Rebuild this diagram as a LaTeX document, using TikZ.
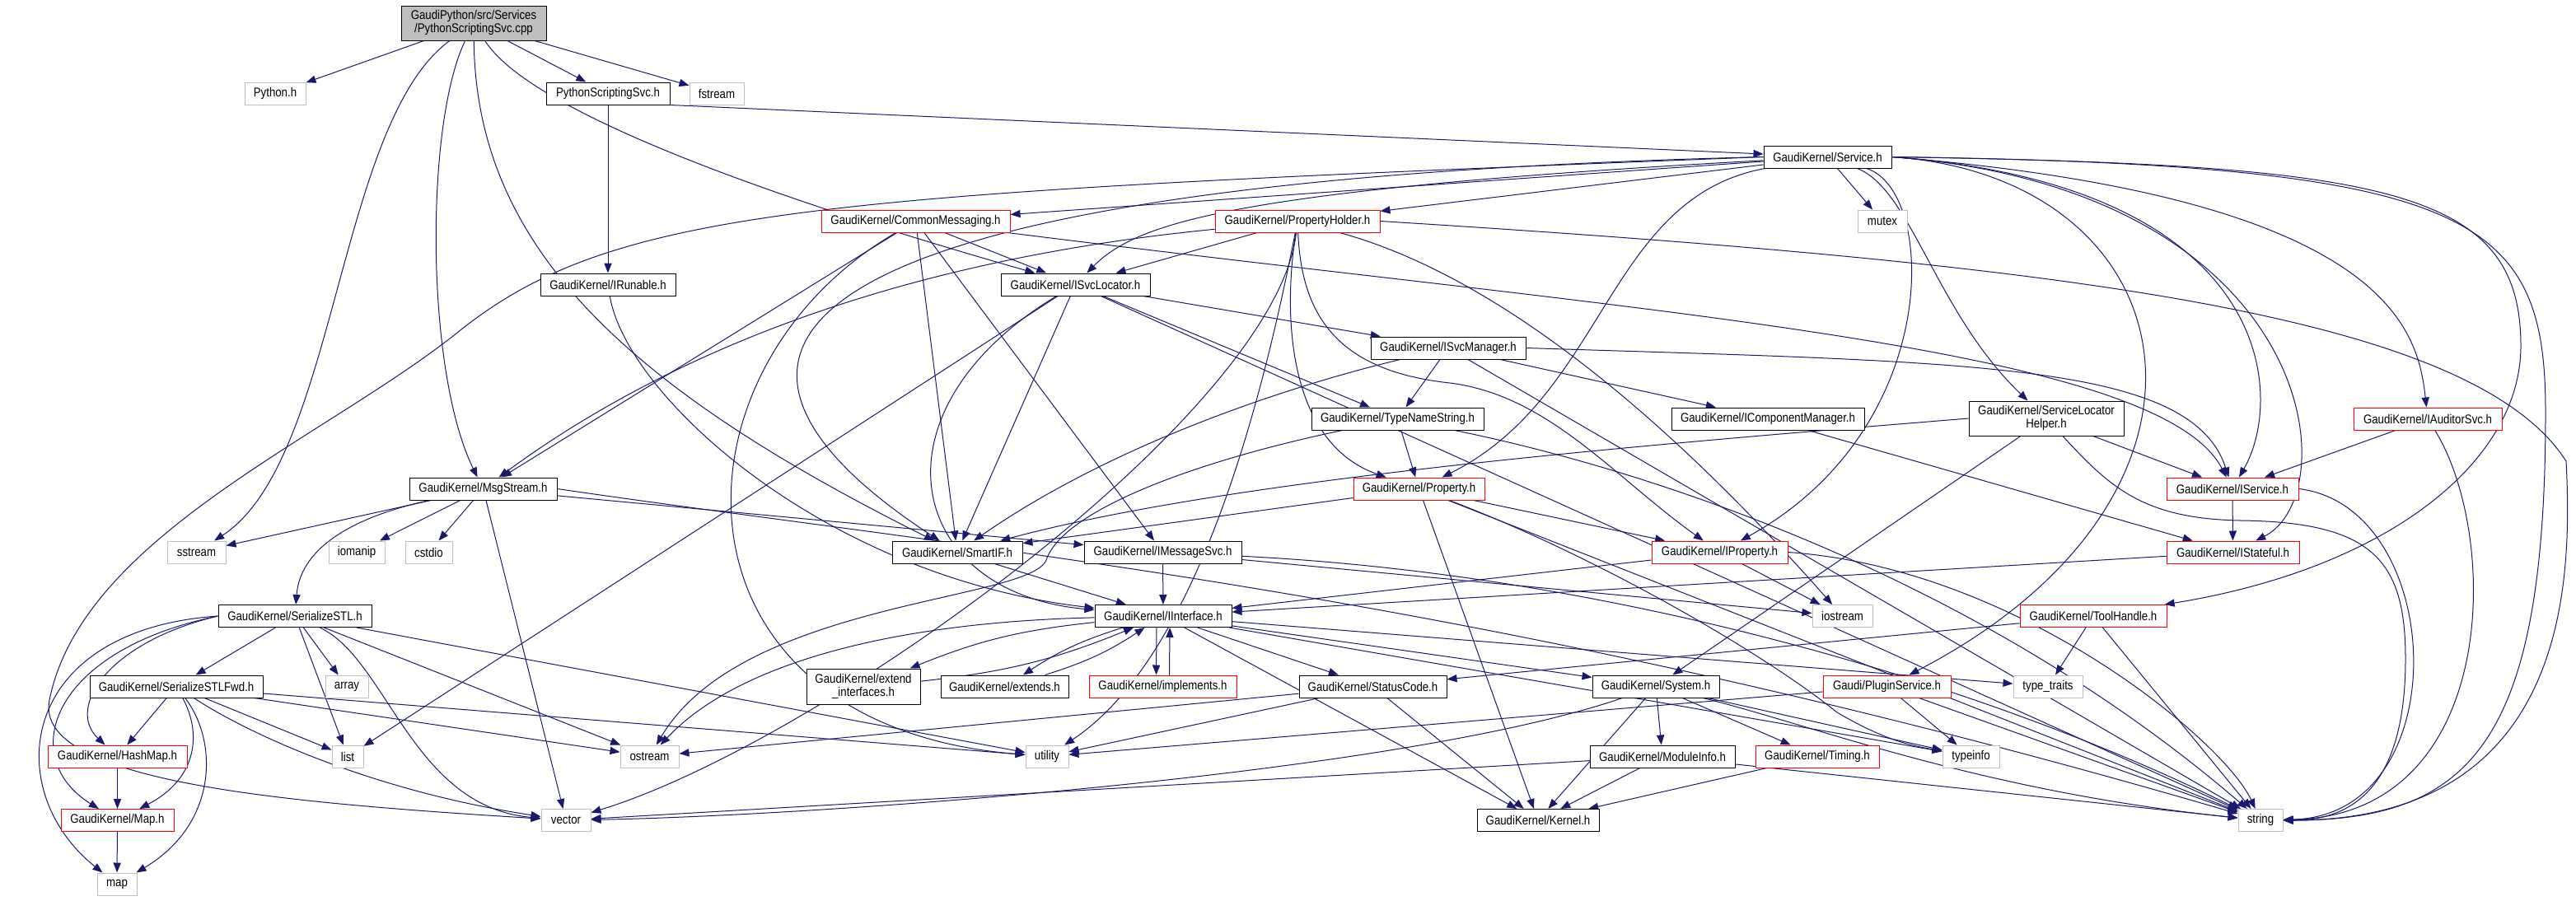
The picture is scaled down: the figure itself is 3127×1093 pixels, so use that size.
\documentclass[tikz,border=0pt]{standalone}
\usepackage{fontspec}
\setmainfont{Liberation Sans}[FakeStretch=0.86]
\usetikzlibrary{arrows.meta}
\definecolor{edgec}{HTML}{191970}
\definecolor{grayb}{HTML}{BFBFBF}
\definecolor{redb}{HTML}{FF0000}
\pgfdeclarelayer{bg}
\pgfsetlayers{bg,main}
\begin{document}
\begin{tikzpicture}[x=0.5pt,y=-0.5pt,
  box/.style={draw=black, line width=0.5pt, fill=white, inner sep=0pt, minimum height=13.5pt, align=center, font=\fontsize{7.7}{8}\selectfont},
  gbox/.style={box, draw=grayb},
  rbox/.style={box, draw=redb},
  dep/.style={draw=edgec, line width=0.5pt, -{Triangle[length=6pt,width=4.6pt]}}]
\useasboundingbox (0,0) rectangle (3127,1093);
% nodes
\node[box,fill=grayb,minimum width=88pt,minimum height=21pt] (root) at (575,28) {GaudiPython/src/Services\\/PythonScriptingSvc.cpp};
\node[gbox,minimum width=37pt] (python) at (334,113.5) {Python.h};
\node[box,minimum width=75pt] (pss) at (738,113.5) {PythonScriptingSvc.h};
\node[gbox,minimum width=33pt] (fstream) at (870,113.5) {fstream};
\node[box,minimum width=77.5pt] (svc) at (2218.5,190.5) {GaudiKernel/Service.h};
\node[rbox,minimum width=114.5pt] (cm) at (1111.5,268.5) {GaudiKernel/CommonMessaging.h};
\node[rbox,minimum width=100pt] (ph) at (1575,268.5) {GaudiKernel/PropertyHolder.h};
\node[gbox,minimum width=30pt] (mutex) at (2285,268.5) {mutex};
\node[box,minimum width=82pt] (irun) at (738,345.5) {GaudiKernel/IRunable.h};
\node[box,minimum width=90.5pt] (isl) at (1305.5,345.5) {GaudiKernel/ISvcLocator.h};
\node[box,minimum width=94pt] (ism) at (1758,422.5) {GaudiKernel/ISvcManager.h};
\node[box,minimum width=104.5pt] (tns) at (1696.5,508.5) {GaudiKernel/TypeNameString.h};
\node[box,minimum width=117pt] (icm) at (2146,508.5) {GaudiKernel/IComponentManager.h};
\node[box,minimum width=94pt,minimum height=21pt] (slh) at (2484,508) {GaudiKernel/ServiceLocator\\Helper.h};
\node[rbox,minimum width=90pt] (ias) at (2947,508.5) {GaudiKernel/IAuditorSvc.h};
\node[box,minimum width=89.5pt] (msg) at (586.5,593.5) {GaudiKernel/MsgStream.h};
\node[rbox,minimum width=79.5pt] (prop) at (1722.5,593.5) {GaudiKernel/Property.h};
\node[rbox,minimum width=80pt] (isvc) at (2710,593.5) {GaudiKernel/IService.h};
\node[gbox,minimum width=35.5pt] (sstream) at (238.5,670.5) {sstream};
\node[gbox,minimum width=34pt] (iomanip) at (433,670.5) {iomanip};
\node[gbox,minimum width=28.5pt] (cstdio) at (520.5,670.5) {cstdio};
\node[box,minimum width=79pt] (smartif) at (1162,670.5) {GaudiKernel/SmartIF.h};
\node[box,minimum width=95.5pt] (imsg) at (1411.5,670.5) {GaudiKernel/IMessageSvc.h};
\node[rbox,minimum width=82.5pt] (iprop) at (2087.5,670.5) {GaudiKernel/IProperty.h};
\node[rbox,minimum width=80.5pt] (istate) at (2710.5,670.5) {GaudiKernel/IStateful.h};
\node[box,minimum width=93pt] (sstl) at (358,748) {GaudiKernel/SerializeSTL.h};
\node[box,minimum width=83pt] (iif) at (1412,748) {GaudiKernel/IInterface.h};
\node[gbox,minimum width=36.5pt] (iostream) at (2236.5,748) {iostream};
\node[rbox,minimum width=89pt] (tool) at (2541,748) {GaudiKernel/ToolHandle.h};
\node[box,minimum width=105pt] (sfwd) at (214,833.5) {GaudiKernel/SerializeSTLFwd.h};
\node[gbox,minimum width=26pt] (array) at (421,833.5) {array};
\node[box,minimum width=69pt,minimum height=21.5pt] (extif) at (1048,833.5) {GaudiKernel/extend\\\_interfaces.h};
\node[box,minimum width=77.5pt] (extends) at (1219.5,833.5) {GaudiKernel/extends.h};
\node[rbox,minimum width=89.5pt] (impl) at (1411.5,833.5) {GaudiKernel/implements.h};
\node[box,minimum width=89.5pt] (sc) at (1666.5,833.5) {GaudiKernel/StatusCode.h};
\node[box,minimum width=77pt] (sys) at (2010,833.5) {GaudiKernel/System.h};
\node[rbox,minimum width=77.5pt] (plugin) at (2290.5,833.5) {Gaudi/PluginService.h};
\node[gbox,minimum width=42pt] (tt) at (2486,833.5) {type\_traits};
\node[rbox,minimum width=84.5pt] (hashmap) at (142.5,918.5) {GaudiKernel/HashMap.h};
\node[gbox,minimum width=19pt] (list) at (422,918.5) {list};
\node[gbox,minimum width=35.5pt] (ostream) at (788.5,918.5) {ostream};
\node[gbox,minimum width=26pt] (utility) at (1271,918.5) {utility};
\node[box,minimum width=88pt] (modinfo) at (2018,918.5) {GaudiKernel/ModuleInfo.h};
\node[rbox,minimum width=75pt] (timing) at (2206,918.5) {GaudiKernel/Timing.h};
\node[gbox,minimum width=34.5pt] (typeinfo) at (2392.5,918.5) {typeinfo};
\node[rbox,minimum width=68.5pt] (maph) at (142.5,996) {GaudiKernel/Map.h};
\node[gbox,minimum width=30pt] (vector) at (687,996) {vector};
\node[box,minimum width=74pt] (kernel) at (1867,996) {GaudiKernel/Kernel.h};
\node[gbox,minimum width=27pt] (string) at (2744,996) {string};
\node[gbox,minimum width=24pt] (map) at (142,1073.5) {map};
% edges
\begin{pgfonlayer}{bg}
% root
\draw[dep] (root) -- (python);
\draw[dep] (root) -- (pss);
\draw[dep] (root) -- (fstream);
\draw[dep] (root) .. controls (409,150) and (409,560) .. (sstream);
\draw[dep] (root) .. controls (516,150) and (516,450) .. (msg);
\draw[dep] (root) .. controls (578,300) and (760,470) .. (smartif);
\draw[dep] (root) .. controls (640,130) and (900,230) .. (isl);
% pss
\draw[dep] (pss.south east) -- (svc);
\draw[dep] (pss) -- (irun);
\draw[dep] (irun) .. controls (760,480) and (1000,700) .. (iif);
% svc
\draw[dep] (svc) -- (cm);
\draw[dep] (svc) -- (ph);
\draw[dep] (svc) -- (mutex);
\draw[dep] (svc) .. controls (1500,230) and (1380,270) .. (isl);
\draw[dep] (svc.west) .. controls (750,225) and (870,480) .. (smartif);
\draw[dep] (svc.west) .. controls (1000,235) and (750,250) .. (560,400) .. controls (400,530) and (100,650) .. (60,850) .. controls (40,950) and (350,975) .. (vector);
\draw[dep] (svc) .. controls (1950,240) and (1950,480) .. (prop);
\draw[dep] (svc) .. controls (2351,230) and (2360,520) .. (iprop);
\draw[dep] (svc) .. controls (2320,230) and (2350,380) .. (slh);
\draw[dep] (svc.east) .. controls (2660,215) and (2740,600) .. (plugin);
\draw[dep] (svc.east) .. controls (2760,225) and (2775,480) .. (isvc);
\draw[dep] (svc.east) .. controls (2815,230) and (2850,600) .. (istate);
\draw[dep] (svc.east) .. controls (2900,240) and (2935,400) .. (ias);
\draw[dep] (svc.east) .. controls (2900,200) and (3060,230) .. (3060,420) .. controls (3060,560) and (2900,690) .. (tool);
\draw[dep] (svc.east) .. controls (3000,200) and (3090,260) .. (3090,500) .. controls (3090,900) and (3000,996) .. (string);
% cm
\draw[dep] (cm) .. controls (2000,380) and (2620,420) .. (isvc);
\draw[dep] (cm) -- (isl);
\draw[dep] (cm) -- (msg);
\draw[dep] (cm) -- (smartif);
\draw[dep] (cm) -- (imsg);
\draw[dep] (cm) .. controls (800,450) and (800,880) .. (utility);
% ph
\draw[dep] (ph) .. controls (1150,310) and (850,400) .. (msg);
\draw[dep] (ph) -- (isl);
\draw[dep] (ph) .. controls (1555,400) and (1570,540) .. (prop);
\draw[dep] (ph) .. controls (1580,380) and (1620,450) .. (1760,465) .. controls (1880,480) and (1960,580) .. (iprop);
\draw[dep] (ph) .. controls (1800,330) and (2000,480) .. (iostream);
\draw[dep] (ph) .. controls (1550,500) and (1000,900) .. (vector);
\draw[dep] (ph) .. controls (1530,500) and (1450,800) .. (utility);
\draw[dep] (ph.east) .. controls (2500,320) and (3000,380) .. (3115,560) .. controls (3122,700) and (3122,996) .. (string);
% isl
\draw[dep] (isl) .. controls (1050,500) and (1100,720) .. (iif);
\draw[dep] (isl) -- (ism);
\draw[dep] (isl) -- (tns);
\draw[dep] (isl) -- (smartif);
\draw[dep] (isl) -- (list);
\draw[dep] (isl) -- (string);
% ism
\draw[dep] (ism) -- (icm);
\draw[dep] (ism.east) .. controls (2400,440) and (2660,440) .. (isvc);
\draw[dep] (ism) .. controls (1560,470) and (1350,540) .. (smartif);
\draw[dep] (ism) -- (tns);
\draw[dep] (ism) -- (string);
% icm
\draw[dep] (icm) -- (istate);
% tns
\draw[dep] (tns) -- (prop);
\draw[dep] (tns) .. controls (1450,560) and (1290,620) .. (1270,680) .. controls (1250,730) and (900,730) .. (ostream);
\draw[dep] (tns) .. controls (2000,570) and (2400,700) .. (string);
% slh
\draw[dep] (slh) -- (isvc);
\draw[dep] (slh.west) .. controls (2000,540) and (1500,580) .. (smartif);
\draw[dep] (slh) -- (sys);
\draw[dep] (slh) .. controls (2560,590) and (2600,630) .. (2720,632) .. controls (2880,634) and (2920,680) .. (2920,800) .. controls (2920,950) and (2860,996) .. (string);
% ias
\draw[dep] (ias) -- (isvc);
\draw[dep] (ias) .. controls (3035,650) and (3035,990) .. (string);
% prop
\draw[dep] (prop) -- (iprop);
\draw[dep] (prop) -- (kernel);
\draw[dep] (prop) -- (smartif);
\draw[dep] (prop) -- (string);
\draw[dep] (prop) .. controls (1950,680) and (2150,800) .. (2230,865) .. controls (2290,900) and (2320,905) .. (typeinfo);
% isvc
\draw[dep] (isvc) -- (istate);
\draw[dep] (isvc.east) .. controls (2970,615) and (2985,990) .. (string);
% iprop
\draw[dep] (iprop) -- (iif);
\draw[dep] (iprop) -- (iostream);
\draw[dep] (iprop.east) .. controls (2450,690) and (2700,900) .. (string);
% istate
\draw[dep] (istate) -- (iif);
% imsg
\draw[dep] (imsg) -- (iif);
\draw[dep] (imsg) -- (iostream);
\draw[dep] (imsg) .. controls (2000,700) and (2450,850) .. (string);
% smartif
\draw[dep] (smartif) -- (iif);
% msg
\draw[dep] (msg) -- (imsg);
\draw[dep] (msg) .. controls (440,625) and (365,660) .. (sstl);
\draw[dep] (msg) -- (cstdio);
\draw[dep] (msg) -- (iomanip);
\draw[dep] (msg) -- (sstream);
\draw[dep] (msg.east) .. controls (1200,670) and (1800,720) .. (string);
\draw[dep] (msg) -- (vector);
% sstl
\draw[dep] (sstl) -- (sfwd);
\draw[dep] (sstl) -- (array);
\draw[dep] (sstl) -- (list);
\draw[dep] (sstl) .. controls (470,800) and (500,980) .. (vector);
\draw[dep] (sstl) -- (ostream);
\draw[dep] (sstl) -- (utility);
\draw[dep] (sstl.west) .. controls (130,780) and (80,860) .. (hashmap);
\draw[dep] (sstl.west) .. controls (60,790) and (20,920) .. (maph);
\draw[dep] (sstl.west) .. controls (20,765) and (0,960) .. (map);
% sfwd
\draw[dep] (sfwd) -- (hashmap);
\draw[dep] (sfwd) .. controls (245,890) and (240,945) .. (maph);
\draw[dep] (sfwd) .. controls (265,900) and (265,1000) .. (map);
\draw[dep] (sfwd) -- (list);
\draw[dep] (sfwd) .. controls (300,890) and (450,960) .. (vector);
\draw[dep] (sfwd) -- (ostream);
\draw[dep] (sfwd) -- (utility);
\draw[dep] (hashmap) -- (maph);
\draw[dep] (maph) -- (map);
% iif
\draw[dep] (iif) to[bend right=8] (extif);
\draw[dep] (extif) to[bend right=8] (iif);
\draw[dep] (iif) to[bend right=8] (extends);
\draw[dep] (extends) to[bend right=8] (iif);
\draw[dep] ([xshift=-4pt]iif.south) -- ([xshift=-4pt]impl.north);
\draw[dep] ([xshift=4pt]impl.north) -- ([xshift=4pt]iif.south);
\draw[dep] (iif) -- (sc);
\draw[dep] (iif) -- (sys);
\draw[dep] (iif) -- (kernel);
\draw[dep] (iif) .. controls (1100,755) and (900,800) .. (ostream);
\draw[dep] (iif) -- (tt);
\draw[dep] (iif) -- (typeinfo);
% tool
\draw[dep] (tool) -- (sc);
\draw[dep] (tool) -- (tt);
\draw[dep] (tool) -- (string);
% sc
\draw[dep] (sc) -- (ostream);
\draw[dep] (sc) -- (utility);
\draw[dep] (sc) -- (kernel);
% sys
\draw[dep] (sys) -- (modinfo);
\draw[dep] (sys) -- (timing);
\draw[dep] (sys) -- (kernel);
\draw[dep] (sys) .. controls (1700,940) and (1000,990) .. (vector);
\draw[dep] (sys) .. controls (2200,880) and (2400,960) .. (string);
\draw[dep] (sys) -- (typeinfo);
% modinfo
\draw[dep] (modinfo) -- (kernel);
\draw[dep] (modinfo) -- (string);
\draw[dep] (modinfo) -- (vector);
% timing
\draw[dep] (timing) -- (kernel);
% plugin
\draw[dep] (plugin) -- (utility);
\draw[dep] (plugin) -- (typeinfo);
\draw[dep] (plugin) -- (string);
\end{pgfonlayer}
\end{tikzpicture}
\end{document}
